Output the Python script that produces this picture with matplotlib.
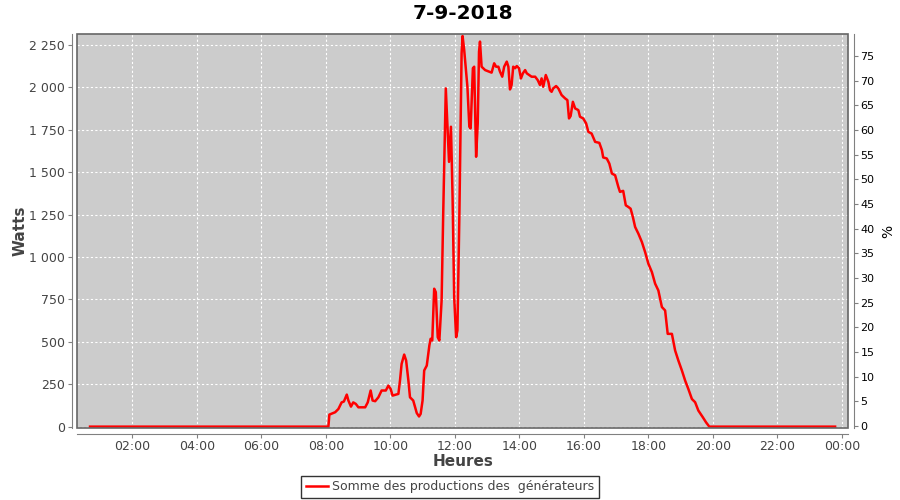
import matplotlib
matplotlib.use("Agg")
import matplotlib.pyplot as plt
from matplotlib.ticker import FuncFormatter, MultipleLocator
from matplotlib.patches import Rectangle

# heures (décimales) et puissance en W
heures = [0.69, 7.97, 8.08, 8.11, 8.29, 8.39, 8.49, 8.56, 8.65, 8.70, 8.78, 8.85,
          8.93, 9.01, 9.22, 9.30, 9.39, 9.45, 9.53, 9.63, 9.73, 9.86, 9.94, 10.01,
          10.07, 10.25, 10.30, 10.35, 10.43, 10.49, 10.56, 10.61, 10.71, 10.82,
          10.89, 10.94, 11.00, 11.05, 11.13, 11.21, 11.25, 11.30, 11.36, 11.41,
          11.47, 11.52, 11.59, 11.64, 11.72, 11.82, 11.88, 11.93, 11.98, 12.04,
          12.08, 12.14, 12.21, 12.24, 12.29, 12.39, 12.45, 12.49, 12.56, 12.60,
          12.66, 12.71, 12.75, 12.78, 12.83, 12.94, 13.14, 13.22, 13.28, 13.35,
          13.40, 13.47, 13.53, 13.61, 13.66, 13.71, 13.76, 13.81, 13.87, 13.92,
          13.99, 14.05, 14.11, 14.18, 14.23, 14.38, 14.49, 14.57, 14.64, 14.69,
          14.74, 14.82, 14.90, 14.95, 15.00, 15.05, 15.14, 15.21, 15.31, 15.42,
          15.49, 15.54, 15.59, 15.66, 15.73, 15.83, 15.88, 15.98, 16.07, 16.14,
          16.24, 16.35, 16.48, 16.56, 16.60, 16.71, 16.79, 16.87, 16.97, 17.07,
          17.12, 17.22, 17.30, 17.38, 17.45, 17.52, 17.59, 17.69, 17.80, 17.90,
          18.00, 18.11, 18.21, 18.31, 18.42, 18.52, 18.60, 18.73, 18.83, 18.93,
          19.04, 19.14, 19.24, 19.35, 19.45, 19.55, 19.69, 19.79, 19.89, 23.79]
watts = [0, 0, 0, 71, 85, 104, 143, 148, 189, 154, 118, 143,
         134, 114, 114, 143, 213, 154, 150, 173, 213, 213, 242, 222,
         183, 193, 272, 370, 425, 390, 272, 173, 154, 80,
         60, 75, 154, 331, 360, 478, 518, 508, 813, 793,
         527, 508, 744, 1258, 1994, 1561, 1768, 1354, 764, 527,
         567, 1236, 2201, 2303, 2221, 2004, 1768, 1758, 2113, 2122,
         1591, 1788, 2210, 2270, 2122, 2102, 2087, 2142, 2122, 2122,
         2093, 2063, 2122, 2152, 2122, 1988, 2014, 2122, 2113, 2126,
         2113, 2053, 2083, 2102, 2083, 2063, 2063, 2043, 2014, 2053,
         2004, 2073, 2033, 1984, 1974, 1994, 2008, 1994, 1955, 1935,
         1925, 1817, 1831, 1915, 1876, 1866, 1827, 1817, 1788, 1738,
         1728, 1679, 1673, 1630, 1587, 1581, 1551, 1492, 1482, 1413,
         1384, 1390, 1305, 1295, 1285, 1236, 1177, 1138, 1088, 1029,
         961, 911, 843, 803, 705, 685, 547, 547, 449, 390,
         331, 272, 222, 163, 144, 95, 55, 25, 0, 0]

xticks = list(range(2, 25, 2))
xlabels = ["%02d:00" % (h % 24) for h in xticks]

fig = plt.figure(figsize=(9, 5), dpi=100)
ax = fig.add_axes([77.3/900, 1-428/500, (848-77.3)/900, (428-34.3)/500])
ax.set_facecolor("#cccccc")

ax.plot(heures, watts, color="red", linewidth=1.8, label="Somme des productions des  générateurs", zorder=3)

ax.set_xlim(0.295, 24.19)
ax.set_ylim(-8, 2313)
ax.set_xticks(xticks)
ax.set_xticklabels(xlabels)
ax.yaxis.set_major_locator(MultipleLocator(250))
ax.yaxis.set_major_formatter(FuncFormatter(lambda v, p: "{:,}".format(int(v)).replace(",", " ")))
ax.grid(True, color="white", linestyle=(0, (2, 2)), linewidth=0.8)

for s in ["top", "right"]:
    ax.spines[s].set_visible(False)
for s in ["left", "bottom"]:
    ax.spines[s].set_position(("outward", 4))
    ax.spines[s].set_color("#808080")
ax.add_patch(Rectangle((0, 0), 1, 1, transform=ax.transAxes, fill=False,
                       edgecolor="#666666", linewidth=1.2, zorder=4, clip_on=False))
ax.tick_params(colors="#808080", labelcolor="#444444", labelsize=9, length=3, pad=2)

ax.set_xlabel("Heures", fontsize=11, fontweight="bold", color="#444444")
ax.set_ylabel("Watts", fontsize=11, fontweight="bold", color="#444444")
ax.xaxis.set_label_coords(0.5, -0.066)
ax.yaxis.set_label_coords(-0.064, 0.5)
ax.set_title("7-9-2018", fontsize=14.5, fontweight="bold", pad=11)

ax2 = ax.twinx()
ax2.set_ylim(-0.4, 79.4)
ax2.yaxis.set_major_locator(MultipleLocator(5))
for s in ["top", "left", "bottom"]:
    ax2.spines[s].set_visible(False)
ax2.spines["right"].set_position(("outward", 4))
ax2.spines["right"].set_color("#808080")
ax2.tick_params(colors="#808080", labelcolor="black", labelsize=8, length=3, pad=2)
ax2.set_ylabel("%", fontsize=10)
ax2.yaxis.set_label_coords(1.043, 0.5)

leg = fig.legend(loc="lower center", bbox_to_anchor=(0.5, 0.0), fontsize=9,
                 frameon=True, fancybox=False, edgecolor="black", handlelength=1.8,
                 borderpad=0.35, handletextpad=0.3, borderaxespad=0.2)
leg.get_frame().set_linewidth(1.0)
for t in leg.get_texts():
    t.set_color("#444444")

fig.savefig("out.png", dpi=100)
